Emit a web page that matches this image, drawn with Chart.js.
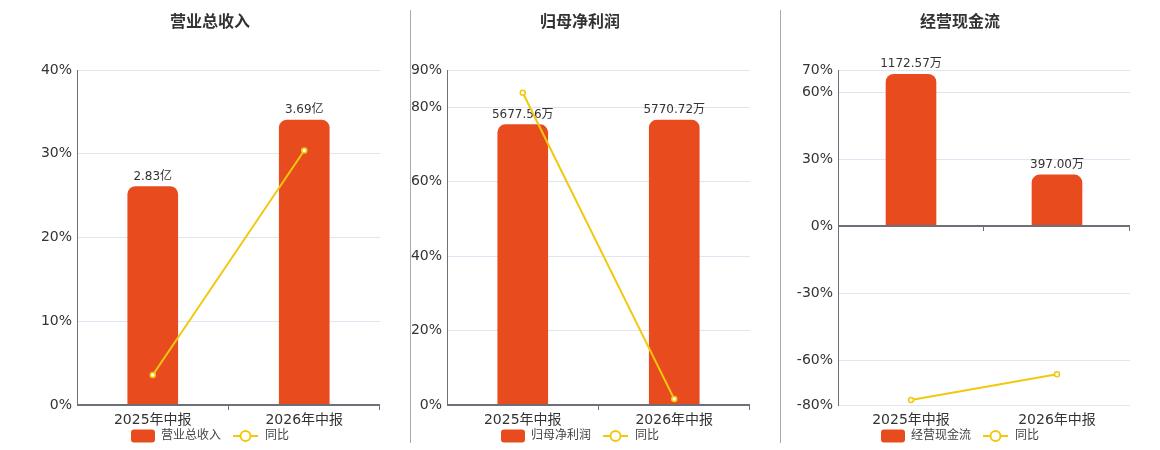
<!DOCTYPE html>
<html lang="zh">
<head>
<meta charset="UTF-8">
<title>营业总收入 / 归母净利润 / 经营现金流</title>
<script src="https://cdn.jsdelivr.net/npm/chart.js"></script>
<style>
    body { margin: 0; background: #fff; }
    #wrap { position: relative; width: 1160px; height: 450px; }
    .panel { position: absolute; top: 0; height: 450px; }
    .sep { position: absolute; top: 10px; width: 1px; height: 433px; background: #aaa; }
</style>
</head>
<body>
<div id="wrap">
    <div class="panel" style="left:0"><canvas id="c1" width="410" height="450"></canvas></div>
    <div class="sep" style="left:410px"></div>
    <div class="panel" style="left:411px"><canvas id="c2" width="369" height="450"></canvas></div>
    <div class="sep" style="left:780px"></div>
    <div class="panel" style="left:781px"><canvas id="c3" width="379" height="450"></canvas></div>
</div>
<script>
// données
const periods = ['2025年中报', '2026年中报'];

const revenue = [2.83, 3.69];            // 亿
const revenueYoy = [3.6, 30.39];          // %
const revenueTicks = [0, 10, 20, 30, 40];

const netProfit = [5677.56, 5770.72];    // 万
const netProfitYoy = [83.9, 1.64];
const netProfitTicks = [0, 20, 40, 60, 80, 90];

const cashFlow = [1172.57, 397.00];      // 万
const cashFlowYoy = [-77.7, -66.14];
const cashFlowTicks = [-80, -60, -30, 0, 30, 60, 70];

const FONT = '"DejaVu Sans", "Noto Sans CJK SC", sans-serif';
const BAR = '#E84C1E';
const LINE = '#F2C80F';
const AXIS = '#6E7079';

// titre, axe à zéro, étiquettes des barres, légende
const decor = {
    id: 'decor',
    afterDatasetDraw(chart, args, opts) {
        if (args.index !== 0) return;
        const ctx = chart.ctx;
        ctx.save();
        ctx.font = '12px ' + FONT;
        ctx.fillStyle = '#333';
        ctx.textAlign = 'center';
        ctx.textBaseline = 'bottom';
        args.meta.data.forEach((bar, i) => {
            ctx.fillText(opts.bars[i].toFixed(2) + opts.unit, bar.x, bar.y - 4);
        });
        ctx.restore();
    },
    afterDatasetsDraw(chart) {
        const ctx = chart.ctx, area = chart.chartArea;
        const y0 = Math.round(chart.scales.y.getPixelForValue(0));
        ctx.save();
        ctx.strokeStyle = AXIS;
        ctx.lineWidth = 2;
        ctx.beginPath();
        ctx.moveTo(area.left, y0);
        ctx.lineTo(area.right, y0);
        ctx.stroke();
        ctx.lineWidth = 1;
        const step = (area.right - area.left) / chart.data.labels.length;
        for (let i = 1; i <= chart.data.labels.length; i++) {
            const px = Math.round(area.left + i * step) - 0.5;
            ctx.beginPath();
            ctx.moveTo(px, y0);
            ctx.lineTo(px, y0 + 5);
            ctx.stroke();
        }
        ctx.restore();
    },
    afterDraw(chart, args, opts) {
        const ctx = chart.ctx;
        ctx.save();
        ctx.fillStyle = '#333';
        ctx.font = 'bold 16px ' + FONT;
        ctx.textAlign = 'center';
        ctx.textBaseline = 'middle';
        ctx.fillText(opts.title, opts.centre, 23);

        // légende
        ctx.font = '12px ' + FONT;
        const w1 = ctx.measureText(opts.title).width;
        const w2 = ctx.measureText('同比').width;
        const total = 24 + 6 + w1 + 12 + 25 + 7 + w2;
        let lx = opts.centre - total / 2;
        const ly = 436;
        ctx.fillStyle = BAR;
        ctx.beginPath();
        ctx.roundRect(lx, ly - 6.5, 24, 13, 3);
        ctx.fill();
        lx += 30;
        ctx.fillStyle = '#444';
        ctx.textAlign = 'left';
        ctx.fillText(opts.title, lx, ly);
        lx += w1 + 12;
        ctx.strokeStyle = LINE;
        ctx.lineWidth = 2;
        ctx.beginPath();
        ctx.moveTo(lx, ly);
        ctx.lineTo(lx + 25, ly);
        ctx.stroke();
        ctx.beginPath();
        ctx.arc(lx + 12.5, ly, 5, 0, Math.PI * 2);
        ctx.fillStyle = '#fff';
        ctx.fill();
        ctx.stroke();
        lx += 32;
        ctx.fillStyle = '#444';
        ctx.fillText('同比', lx, ly);
        ctx.restore();
    }
};

function makePanel(id, p) {
    return new Chart(document.getElementById(id), {
        type: 'bar',
        data: {
            labels: periods,
            datasets: [{
                type: 'bar',
                label: p.title,
                data: p.bars,
                yAxisID: 'yBar',
                backgroundColor: BAR,
                barThickness: 50,
                borderRadius: { topLeft: 8, topRight: 8 },
                borderSkipped: 'bottom',
                order: 1
            }, {
                type: 'line',
                label: '同比',
                data: p.yoy,
                yAxisID: 'y',
                borderColor: LINE,
                borderWidth: 2,
                tension: 0,
                pointRadius: 2.5,
                pointBackgroundColor: '#fff',
                pointBorderColor: LINE,
                pointBorderWidth: 1.5,
                order: 0
            }]
        },
        options: {
            responsive: false,
            animation: false,
            layout: { padding: { top: 70, bottom: 14, left: 0, right: 30 } },
            plugins: {
                legend: { display: false },
                tooltip: { enabled: false },
                decor: { title: p.title, unit: p.unit, bars: p.bars, centre: p.centre }
            },
            scales: {
                x: {
                    grid: { display: false, drawTicks: false },
                    border: { display: false },
                    ticks: { padding: 7, color: '#333', font: { size: 14, family: FONT } }
                },
                y: {
                    position: 'left',
                    min: p.ticks[0],
                    max: p.ticks[p.ticks.length - 1],
                    afterBuildTicks: s => { s.ticks = p.ticks.map(v => ({ value: v })); },
                    afterFit: s => { s.width = p.axisWidth; },
                    grid: { color: '#E0E6F1', drawTicks: false },
                    border: { display: true, color: AXIS, width: 1 },
                    ticks: { padding: 5, color: '#333', font: { size: 14, family: FONT }, callback: v => v + '%' }
                },
                yBar: { display: false, min: p.barMin, max: p.barMax }
            }
        },
        plugins: [decor]
    });
}

makePanel('c1', { title: '营业总收入', unit: '亿', bars: revenue, yoy: revenueYoy, ticks: revenueTicks,
    barMin: 0, barMax: 4.337, axisWidth: 77, centre: 210 });
makePanel('c2', { title: '归母净利润', unit: '万', bars: netProfit, yoy: netProfitYoy, ticks: netProfitTicks,
    barMin: 0, barMax: 6783, axisWidth: 36, centre: 169 });
makePanel('c3', { title: '经营现金流', unit: '万', bars: cashFlow, yoy: cashFlowYoy, ticks: cashFlowTicks,
    barMin: -1378, barMax: 1206, axisWidth: 57, centre: 179 });
</script>
</body>
</html>
